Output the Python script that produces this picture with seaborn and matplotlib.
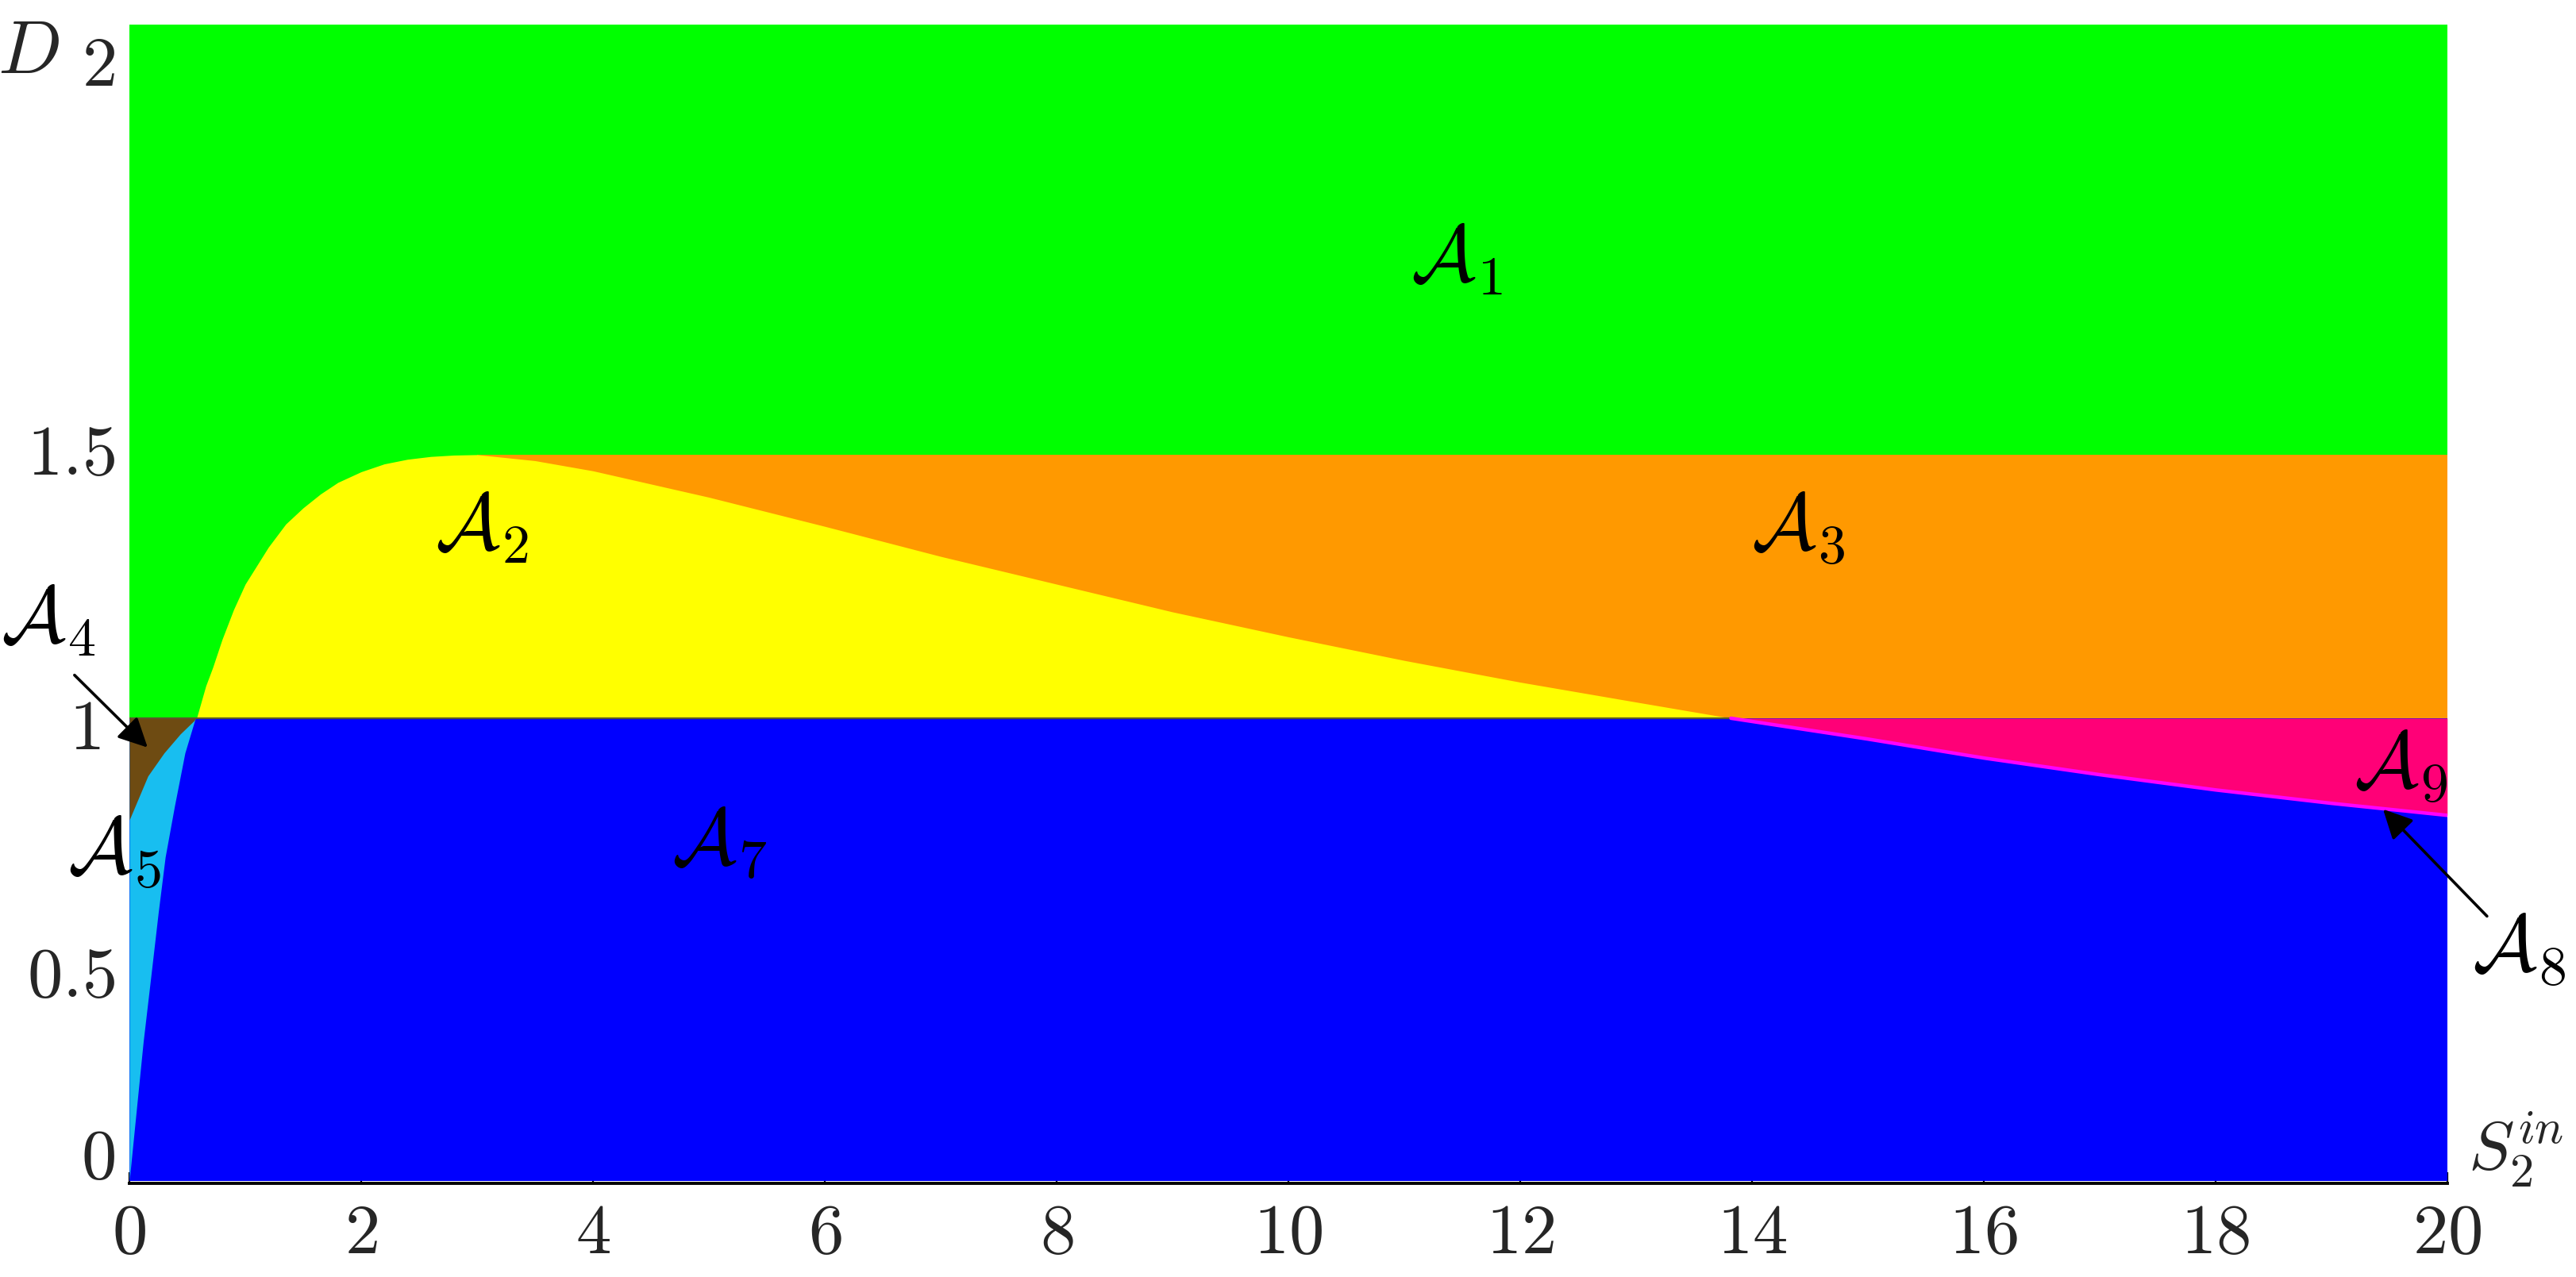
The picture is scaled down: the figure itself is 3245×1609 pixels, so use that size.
import numpy as np
import pandas as pd
import matplotlib
matplotlib.use("Agg")
import matplotlib.pyplot as plt
import seaborn as sns

# ---------------- data ----------------
# green/yellow and yellow/orange boundary (upper curve), D vs S2in
curve_S = [0.58, 0.66, 0.72, 0.80, 0.90, 1.00, 1.10, 1.20, 1.35, 1.50, 1.65, 1.80, 2.00,
           2.20, 2.40, 2.60, 2.80, 3.00, 3.50, 4.00, 5.00, 6.00, 7.00, 8.00, 9.00,
           10.00, 11.00, 12.00, 13.00, 13.82]
curve_D = [1.00, 1.07, 1.11, 1.17, 1.235, 1.29, 1.33, 1.37, 1.42, 1.455, 1.485, 1.51, 1.533,
           1.55, 1.56, 1.566, 1.569, 1.57, 1.557, 1.535, 1.478, 1.415, 1.35, 1.29, 1.23,
           1.176, 1.125, 1.078, 1.035, 1.00]
peak_S = 3.0
band_top = 1.57       # top of orange band
line_D = 1.0          # horizontal boundary

# A9 / A7 boundary (A8 line)
pink_S = [13.82, 15.0, 16.0, 17.0, 18.0, 19.0, 20.0]
pink_D = [1.00, 0.955, 0.914, 0.878, 0.845, 0.816, 0.790]

# cyan (A5) / blue (A7) boundary, S as function of D
cyan_D = [0.00, 0.15, 0.30, 0.45, 0.58, 0.70, 0.81, 0.925, 1.00]
cyan_S = [0.00, 0.06, 0.12, 0.19, 0.25, 0.31, 0.39, 0.48, 0.57]

# brown (A4) / cyan (A5) boundary, S as function of D
brown_D = [0.78, 0.875, 0.925, 0.966, 0.995, 1.00]
brown_S = [0.00, 0.16, 0.30, 0.44, 0.56, 0.57]

x_ticks = [0, 2, 4, 6, 8, 10, 12, 14, 16, 18, 20]
y_tick_values = [0.046, 0.44, 0.975, 1.57, 2.41]
y_tick_labels = ["0", "0.5", "1", "1.5", "2"]

region_labels = [r"$\mathcal{A}_1$", r"$\mathcal{A}_2$", r"$\mathcal{A}_3$", r"$\mathcal{A}_4$",
                 r"$\mathcal{A}_5$", r"$\mathcal{A}_7$", r"$\mathcal{A}_9$", r"$\mathcal{A}_8$"]
label_S = [11.45, 3.04, 14.40, -0.70, -0.13, 5.09, 19.60, 20.62]
label_D = [1.99, 1.41, 1.41, 1.21, 0.71, 0.73, 0.895, 0.50]

# ---------------- styling ----------------
sns.set_theme(style="white")
plt.rcParams["mathtext.fontset"] = "cm"
plt.rcParams["font.family"] = ["DejaVu Serif", "DejaVu Sans"]

GREEN = "#00FF00"
YELLOW = "#FFFF00"
ORANGE = "#FF9900"
BLUE = "#0000FF"
CYAN = "#18BEF0"
BROWN = "#6E4B12"
PINK = "#FF0077"
MAGENTA = "#FF00FF"

fig = plt.figure(figsize=(3245 / 200, 1609 / 200), dpi=200)
ax = fig.add_axes([0.0502, 0.0733, 0.8998, 0.9074])

xmin, xmax = 0.0, 20.0
ymin, ymax = -0.006, 2.5

cS = np.array(curve_S)
cD = np.array(curve_D)

# A1 green: everything above D=1
ax.fill_between([xmin, xmax], line_D, ymax, color=GREEN, lw=0)
# A3 orange: band for S >= peak
ax.fill_between([peak_S, xmax], line_D, band_top, color=ORANGE, lw=0)
# A2 yellow: under the curve
ax.fill_between(cS, line_D, cD, color=YELLOW, lw=0)
# A7 blue: below D=1
ax.fill_between([xmin, xmax], 0, line_D, color=BLUE, lw=0)
# A9 pink
ax.fill_between(pink_S, pink_D, line_D, color=PINK, lw=0)
# A5 cyan
ax.fill_betweenx(cyan_D, 0, cyan_S, color=CYAN, lw=0)
# A4 brown
ax.fill_betweenx(brown_D, 0, brown_S, color=BROWN, lw=0)

# boundary lines
df_line = pd.DataFrame({"S": [xmin, 13.82], "D": [line_D, line_D]})
sns.lineplot(data=df_line, x="S", y="D", ax=ax, color="#5A5A2A", lw=0.8, sort=False)
df_a8 = pd.DataFrame({"S": pink_S, "D": pink_D})
sns.lineplot(data=df_a8, x="S", y="D", ax=ax, color=MAGENTA, lw=1.6, sort=False)

ax.set_xlim(xmin, xmax)
ax.set_ylim(ymin, ymax)
ax.set_xlabel("")
ax.set_ylabel("")

# axes cosmetics
for side in ["top", "right", "left"]:
    ax.spines[side].set_visible(False)
ax.spines["bottom"].set_color("black")
ax.spines["bottom"].set_linewidth(1.4)
ax.set_facecolor("white")
ax.grid(False)

ax.set_xticks(x_ticks)
ax.set_xticklabels([f"${t}$" for t in x_ticks])
ax.tick_params(axis="x", direction="in", length=5, width=0.8, color="black",
               labelsize=32, pad=7, bottom=True)
ax.set_yticks([])

# y tick labels placed as text (x in axes fraction, y in data)
ytrans = ax.get_yaxis_transform()
for val, lab in zip(y_tick_values, y_tick_labels):
    xoff = -0.0125 if lab == "1" else -0.0062
    ax.text(xoff, val, f"${lab}$", transform=ytrans, fontsize=32,
            ha="right", va="center", clip_on=False)

# region labels
for lab, s, d in zip(region_labels, label_S, label_D):
    ax.text(s, d, lab, fontsize=36, ha="center", va="center", color="black", clip_on=False)

# axis titles
ax.text(-0.87, 2.44, r"$D$", fontsize=34, ha="center", va="center", clip_on=False)
ax.text(20.18, 0.065, r"$S_2^{in}$", fontsize=31, ha="left", va="center", clip_on=False)

# arrows
ax.annotate("", xy=(0.185, 0.93), xytext=(-0.50, 1.10),
            arrowprops=dict(arrowstyle="-|>", color="black", lw=1.3, mutation_scale=28),
            annotation_clip=False)
ax.annotate("", xy=(19.42, 0.81), xytext=(20.37, 0.565),
            arrowprops=dict(arrowstyle="-|>", color="black", lw=1.3, mutation_scale=28),
            annotation_clip=False)

fig.savefig("out.png", dpi=200, facecolor="white")
